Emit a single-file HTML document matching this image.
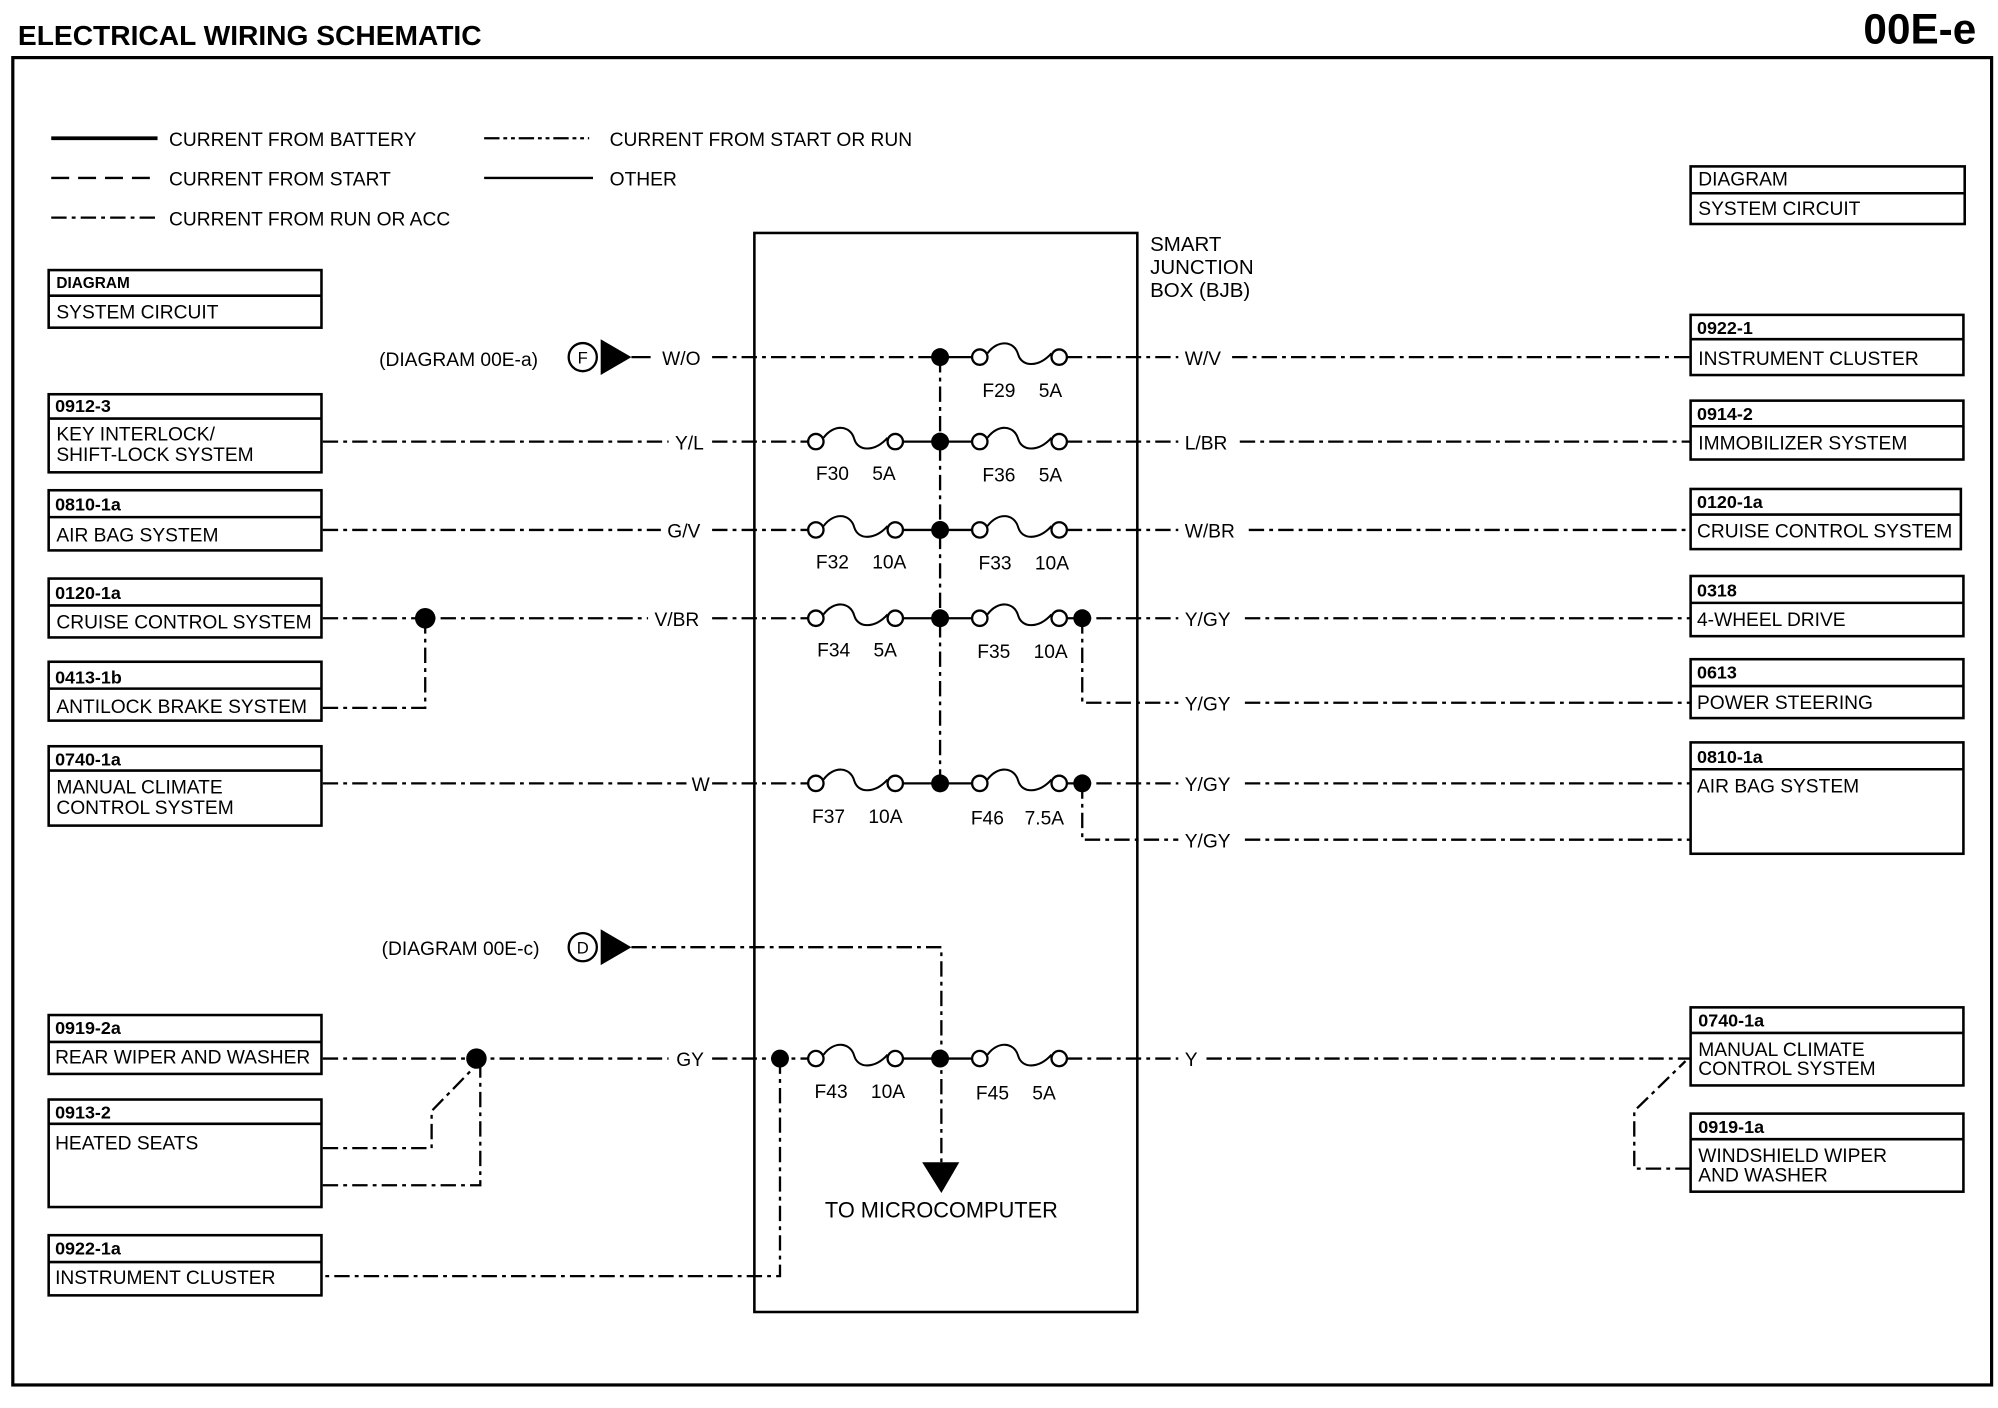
<!DOCTYPE html>
<html><head><meta charset="utf-8"><style>
html,body{margin:0;padding:0;background:#fff;}
svg{display:block;}
text{font-family:"Liberation Sans",Arial,sans-serif;fill:#000;}
.s{font-size:15px;}
.b{font-size:14px;font-weight:bold;}
.w{fill:none;stroke:#000;stroke-width:1.8;}
.d{fill:none;stroke:#000;stroke-width:1.8;stroke-dasharray:12 4 3 4;}
.bx{fill:none;stroke:#000;stroke-width:2;}
</style></head><body>
<svg width="1998" height="1408" viewBox="0 0 1560 1100" preserveAspectRatio="none" xmlns="http://www.w3.org/2000/svg">
<defs>
<g id="fz"><circle cx="0" cy="0" r="6" fill="#fff" stroke="#000" stroke-width="1.8"/><path d="M6,-3 C14,-14 27,-13 30,-2 C33,8 46,8 56,-3" fill="none" stroke="#000" stroke-width="1.6"/><circle cx="62" cy="0" r="6" fill="#fff" stroke="#000" stroke-width="1.8"/></g>
</defs>
<text x="14" y="35" style="font-size:22px;font-weight:bold">ELECTRICAL WIRING SCHEMATIC</text>
<text x="1543" y="34" text-anchor="end" style="font-size:33px;font-weight:bold">00E-e</text>
<rect x="10" y="45" width="1545" height="1037" fill="none" stroke="#000" stroke-width="2.5"/>
<!-- legend -->
<line x1="40" y1="108" x2="123" y2="108" stroke="#000" stroke-width="3"/>
<text x="132" y="114" class="s">CURRENT FROM BATTERY</text>
<line x1="40" y1="139" x2="123" y2="139" stroke="#000" stroke-width="1.8" stroke-dasharray="14 7"/>
<text x="132" y="145" class="s">CURRENT FROM START</text>
<line x1="40" y1="170" x2="123" y2="170" class="d"/>
<text x="132" y="176" class="s">CURRENT FROM RUN OR ACC</text>
<line x1="378" y1="108" x2="460" y2="108" stroke="#000" stroke-width="1.8" stroke-dasharray="12 3 3 3 3 3"/>
<text x="476" y="114" class="s">CURRENT FROM START OR RUN</text>
<line x1="378" y1="139" x2="463" y2="139" class="w"/>
<text x="476" y="145" class="s">OTHER</text>
<!-- diagram boxes -->
<rect x="38" y="211" width="213" height="45" class="bx"/><line x1="38" y1="231" x2="251" y2="231" class="bx"/>
<text x="44" y="225" class="b" style="font-size:12px">DIAGRAM</text><text x="44" y="249" class="s">SYSTEM CIRCUIT</text>
<rect x="1320" y="130" width="214" height="45" class="bx"/><line x1="1320" y1="151" x2="1534" y2="151" class="bx"/>
<text x="1326" y="145" class="s">DIAGRAM</text><text x="1326" y="168" class="s">SYSTEM CIRCUIT</text>
<!-- BJB -->
<rect x="589" y="182" width="299" height="843" class="bx"/>
<text x="898" y="196" class="s" style="font-size:16px">SMART</text>
<text x="898" y="214" class="s" style="font-size:16px">JUNCTION</text>
<text x="898" y="232" class="s" style="font-size:16px">BOX (BJB)</text>
<!-- row 279 -->
<text x="296" y="286" class="s">(DIAGRAM 00E-a)</text>
<circle cx="455" cy="279" r="11" fill="#fff" stroke="#000" stroke-width="1.8"/><text x="455" y="284" text-anchor="middle" style="font-size:13px">F</text>
<path d="M469,265 L493,279 L469,293 Z" fill="#000"/><line x1="493" y1="279" x2="508" y2="279" class="w"/>
<text x="517" y="285" class="s">W/O</text>
<line x1="556" y1="279" x2="734" y2="279" class="d"/>
<line x1="734" y1="279" x2="765" y2="279" class="w"/>
<use href="#fz" x="765" y="279"/>
<line x1="833" y1="279" x2="920" y2="279" class="d"/>
<text x="925" y="285" class="s">W/V</text>
<line x1="962" y1="279" x2="1320" y2="279" class="d"/>
<text x="767" y="310" class="s">F29</text><text x="811" y="310" class="s">5A</text>
<!-- bus -->
<line x1="734" y1="279" x2="734" y2="612" class="d"/>
<!-- row 345 -->
<line x1="252" y1="345" x2="522" y2="345" class="d"/><text x="527" y="351" class="s">Y/L</text>
<line x1="556" y1="345" x2="637" y2="345" class="d"/><use href="#fz" x="637" y="345"/>
<line x1="705" y1="345" x2="765" y2="345" class="w"/><use href="#fz" x="765" y="345"/>
<line x1="833" y1="345" x2="920" y2="345" class="d"/><text x="925" y="351" class="s">L/BR</text>
<line x1="968" y1="345" x2="1320" y2="345" class="d"/>
<text x="637" y="375" class="s">F30</text><text x="681" y="375" class="s">5A</text>
<text x="767" y="376" class="s">F36</text><text x="811" y="376" class="s">5A</text>
<!-- row 414 -->
<line x1="252" y1="414" x2="516" y2="414" class="d"/><text x="521" y="420" class="s">G/V</text>
<line x1="556" y1="414" x2="637" y2="414" class="d"/><use href="#fz" x="637" y="414"/>
<line x1="705" y1="414" x2="765" y2="414" class="w"/><use href="#fz" x="765" y="414"/>
<line x1="833" y1="414" x2="920" y2="414" class="d"/><text x="925" y="420" class="s">W/BR</text>
<line x1="975" y1="414" x2="1320" y2="414" class="d"/>
<text x="637" y="444" class="s">F32</text><text x="681" y="444" class="s">10A</text>
<text x="764" y="445" class="s">F33</text><text x="808" y="445" class="s">10A</text>
<!-- row 483 -->
<line x1="252" y1="483" x2="506" y2="483" class="d"/><text x="511" y="489" class="s">V/BR</text>
<line x1="556" y1="483" x2="637" y2="483" class="d"/><use href="#fz" x="637" y="483"/>
<line x1="705" y1="483" x2="765" y2="483" class="w"/><use href="#fz" x="765" y="483"/>
<line x1="833" y1="483" x2="920" y2="483" class="d"/><text x="925" y="489" class="s">Y/GY</text>
<line x1="972" y1="483" x2="1320" y2="483" class="d"/>
<text x="638" y="513" class="s">F34</text><text x="682" y="513" class="s">5A</text>
<text x="763" y="514" class="s">F35</text><text x="807" y="514" class="s">10A</text>
<path d="M845,483 V549 H920" class="d"/><text x="925" y="555" class="s">Y/GY</text>
<line x1="972" y1="549" x2="1320" y2="549" class="d"/>
<path d="M252,553 H332 V483" class="d"/>
<!-- row 612 -->
<line x1="252" y1="612" x2="536" y2="612" class="d"/><text x="540" y="618" class="s">W</text>
<line x1="556" y1="612" x2="637" y2="612" class="d"/><use href="#fz" x="637" y="612"/>
<line x1="705" y1="612" x2="765" y2="612" class="w"/><use href="#fz" x="765" y="612"/>
<line x1="833" y1="612" x2="920" y2="612" class="d"/><text x="925" y="618" class="s">Y/GY</text>
<line x1="972" y1="612" x2="1320" y2="612" class="d"/>
<text x="634" y="643" class="s">F37</text><text x="678" y="643" class="s">10A</text>
<text x="758" y="644" class="s">F46</text><text x="800" y="644" class="s">7.5A</text>
<path d="M845,612 V656 H920" class="d"/><text x="925" y="662" class="s">Y/GY</text>
<line x1="972" y1="656" x2="1320" y2="656" class="d"/>
<!-- row 740 -->
<text x="298" y="746" class="s">(DIAGRAM 00E-c)</text>
<circle cx="455" cy="740" r="11" fill="#fff" stroke="#000" stroke-width="1.8"/><text x="455" y="745" text-anchor="middle" style="font-size:13px">D</text>
<path d="M469,726 L493,740 L469,754 Z" fill="#000"/>
<path d="M493,740 H735 V910" class="d"/>
<path d="M720,908 L749,908 L735,932 Z" fill="#000"/>
<text x="735" y="951" text-anchor="middle" class="s" style="font-size:17px">TO MICROCOMPUTER</text>
<!-- row 827 -->
<line x1="252" y1="827" x2="522" y2="827" class="d"/><text x="528" y="833" class="s">GY</text>
<line x1="556" y1="827" x2="637" y2="827" class="d"/><use href="#fz" x="637" y="827"/>
<line x1="705" y1="827" x2="765" y2="827" class="w"/><use href="#fz" x="765" y="827"/>
<line x1="833" y1="827" x2="920" y2="827" class="d"/><text x="925" y="833" class="s">Y</text>
<line x1="942" y1="827" x2="1320" y2="827" class="d"/>
<text x="636" y="858" class="s">F43</text><text x="680" y="858" class="s">10A</text>
<text x="762" y="859" class="s">F45</text><text x="806" y="859" class="s">5A</text>
<path d="M609,827 V997 H252" class="d"/>
<path d="M252,897 H337 V868 L372,832" class="d"/>
<path d="M252,926 H375 V827" class="d"/>
<path d="M1320,913 H1276 V868 L1316,829" class="d"/>
<!-- dots -->
<g fill="#000">
<circle cx="734" cy="279" r="7"/><circle cx="734" cy="345" r="7"/><circle cx="734" cy="414" r="7"/><circle cx="734" cy="483" r="7"/><circle cx="734" cy="612" r="7"/><circle cx="734" cy="827" r="7"/>
<circle cx="845" cy="483" r="7"/><circle cx="845" cy="612" r="7"/><circle cx="332" cy="483" r="8"/><circle cx="372" cy="827" r="8"/><circle cx="609" cy="827" r="7"/>
</g>
<!-- left boxes -->
<g>
<rect x="38" y="308" width="213" height="61" class="bx"/><line x1="38" y1="327" x2="251" y2="327" class="bx"/>
<text x="43" y="322" class="b">0912-3</text><text x="44" y="344" class="s">KEY INTERLOCK/</text><text x="44" y="360" class="s">SHIFT-LOCK SYSTEM</text>
<rect x="38" y="383" width="213" height="47" class="bx"/><line x1="38" y1="404" x2="251" y2="404" class="bx"/>
<text x="43" y="399" class="b">0810-1a</text><text x="44" y="423" class="s">AIR BAG SYSTEM</text>
<rect x="38" y="452" width="213" height="46" class="bx"/><line x1="38" y1="473" x2="251" y2="473" class="bx"/>
<text x="43" y="468" class="b">0120-1a</text><text x="44" y="491" class="s">CRUISE CONTROL SYSTEM</text>
<rect x="38" y="517" width="213" height="46" class="bx"/><line x1="38" y1="538" x2="251" y2="538" class="bx"/>
<text x="43" y="534" class="b">0413-1b</text><text x="44" y="557" class="s">ANTILOCK BRAKE SYSTEM</text>
<rect x="38" y="583" width="213" height="62" class="bx"/><line x1="38" y1="602" x2="251" y2="602" class="bx"/>
<text x="43" y="598" class="b">0740-1a</text><text x="44" y="620" class="s">MANUAL CLIMATE</text><text x="44" y="636" class="s">CONTROL SYSTEM</text>
<rect x="38" y="793" width="213" height="46" class="bx"/><line x1="38" y1="814" x2="251" y2="814" class="bx"/>
<text x="43" y="808" class="b">0919-2a</text><text x="43" y="831" class="s">REAR WIPER AND WASHER</text>
<rect x="38" y="859" width="213" height="84" class="bx"/><line x1="38" y1="878" x2="251" y2="878" class="bx"/>
<text x="43" y="874" class="b">0913-2</text><text x="43" y="898" class="s">HEATED SEATS</text>
<rect x="38" y="965" width="213" height="47" class="bx"/><line x1="38" y1="986" x2="251" y2="986" class="bx"/>
<text x="43" y="980" class="b">0922-1a</text><text x="43" y="1003" class="s">INSTRUMENT CLUSTER</text>
</g>
<!-- right boxes -->
<g>
<rect x="1320" y="246" width="213" height="47" class="bx"/><line x1="1320" y1="265" x2="1533" y2="265" class="bx"/>
<text x="1325" y="261" class="b">0922-1</text><text x="1326" y="285" class="s">INSTRUMENT CLUSTER</text>
<rect x="1320" y="313" width="213" height="46" class="bx"/><line x1="1320" y1="333" x2="1533" y2="333" class="bx"/>
<text x="1325" y="328" class="b">0914-2</text><text x="1326" y="351" class="s">IMMOBILIZER SYSTEM</text>
<rect x="1320" y="382" width="211" height="47" class="bx"/><line x1="1320" y1="402" x2="1531" y2="402" class="bx"/>
<text x="1325" y="397" class="b">0120-1a</text><text x="1325" y="420" class="s">CRUISE CONTROL SYSTEM</text>
<rect x="1320" y="450" width="213" height="47" class="bx"/><line x1="1320" y1="471" x2="1533" y2="471" class="bx"/>
<text x="1325" y="466" class="b">0318</text><text x="1325" y="489" class="s">4-WHEEL DRIVE</text>
<rect x="1320" y="515" width="213" height="46" class="bx"/><line x1="1320" y1="536" x2="1533" y2="536" class="bx"/>
<text x="1325" y="530" class="b">0613</text><text x="1325" y="554" class="s">POWER STEERING</text>
<rect x="1320" y="580" width="213" height="87" class="bx"/><line x1="1320" y1="601" x2="1533" y2="601" class="bx"/>
<text x="1325" y="596" class="b">0810-1a</text><text x="1325" y="619" class="s">AIR BAG SYSTEM</text>
<rect x="1320" y="787" width="213" height="61" class="bx"/><line x1="1320" y1="807" x2="1533" y2="807" class="bx"/>
<text x="1326" y="802" class="b">0740-1a</text><text x="1326" y="825" class="s">MANUAL CLIMATE</text><text x="1326" y="840" class="s">CONTROL SYSTEM</text>
<rect x="1320" y="870" width="213" height="61" class="bx"/><line x1="1320" y1="890" x2="1533" y2="890" class="bx"/>
<text x="1326" y="885" class="b">0919-1a</text><text x="1326" y="908" class="s">WINDSHIELD WIPER</text><text x="1326" y="923" class="s">AND WASHER</text>
</g>
</svg>
</body></html>
